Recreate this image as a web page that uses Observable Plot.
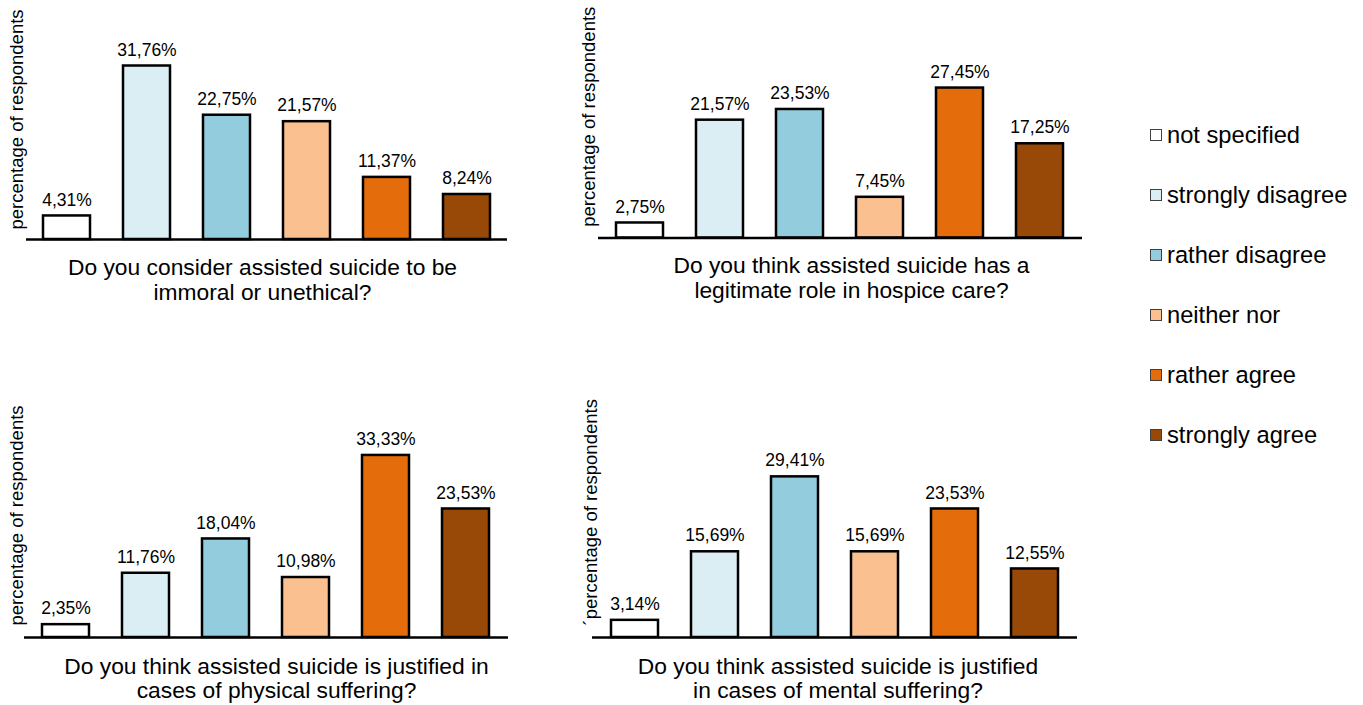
<!DOCTYPE html>
<html>
<head>
<meta charset="utf-8">
<script src="https://cdn.jsdelivr.net/npm/d3@7"></script>
<script src="https://cdn.jsdelivr.net/npm/@observablehq/plot@0.6"></script>
<style>
  html, body { margin: 0; padding: 0; background: #fff; }
  #root { position: relative; width: 1363px; height: 705px; overflow: hidden; font-family: "Liberation Sans", Arial, sans-serif; }
  .panel { position: absolute; }
  #legend { position: absolute; left: 1150px; top: 0; }
  .item { position: absolute; left: 0; display: flex; align-items: center; white-space: nowrap; font-size: 23.7px; color: #000; height: 30px; }
  .sw { width: 12px; height: 12px; box-sizing: border-box; border: 1px solid #404040; margin-right: 5px; }
</style>
</head>
<body>
<div id="root"></div>
<script>
// ---- data ----
const categories = ["not specified", "strongly disagree", "rather disagree", "neither nor", "rather agree", "strongly agree"];
const colors = ["#FFFFFF", "#DAEEF3", "#93CDDD", "#FAC090", "#E46C0A", "#984807"];

const immoral  = [4.31, 31.76, 22.75, 21.57, 11.37, 8.24];
const hospice  = [2.75, 21.57, 23.53, 7.45, 27.45, 17.25];
const physical = [2.35, 11.76, 18.04, 10.98, 33.33, 23.53];
const mental   = [3.14, 15.69, 29.41, 15.69, 23.53, 12.55];

const titles = [
  "Do you consider assisted suicide to be\nimmoral or unethical?",
  "Do you think assisted suicide has a\nlegitimate role in hospice care?",
  "Do you think assisted suicide is justified in\ncases of physical suffering?",
  "Do you think assisted suicide is justified\nin cases of mental suffering?"
];
const yLabels = [
  "percentage of respondents",
  "percentage of respondents",
  "percentage of respondents",
  "´percentage of respondents"
];
const seriesList = [immoral, hospice, physical, mental];

// ---- layout (positions / styles) ----
const layout = [
  {left: 0,   top: 0,   h: 310, ml: 26, mr: 53, mt: 20.5, mb: 71,   tdx: -4.5, tdy: 40,   ldx: -9.5, ldy: -10.75},
  {left: 580, top: 0,   h: 310, ml: 18, mr: 58, mt: 19,   mb: 72.5, tdx: 11,   tdy: 39.5, ldx: -9,   ldy: -12},
  {left: 0,   top: 390, h: 315, ml: 24, mr: 52, mt: 28.5, mb: 68,   tdx: 10,   tdy: 40.5, ldx: -7.5, ldy: -12.75},
  {left: 580, top: 390, h: 315, ml: 12, mr: 63, mt: 28.5, mb: 68,   tdx: 3,    tdy: 40.5, ldx: -1,   ldy: -16}
];

const fmt = v => v.toFixed(2).replace(".", ",") + "%";
const root = document.getElementById("root");

seriesList.forEach((vals, i) => {
  const L = layout[i];
  const rows = categories.map((c, j) => ({cat: c, value: vals[j]}));
  const chart = Plot.plot({
    width: 560,
    height: L.h,
    marginLeft: L.ml, marginRight: L.mr, marginTop: L.mt, marginBottom: L.mb,
    x: {domain: categories, paddingInner: 0.41, paddingOuter: 0.205, axis: null},
    y: {domain: [0, 40], axis: null},
    color: {domain: categories, range: colors},
    style: {fontFamily: "'Liberation Sans', Arial, sans-serif", overflow: "visible", background: "transparent"},
    marks: [
      Plot.barY(rows, {x: "cat", y: "value", fill: "cat", stroke: "#000", strokeWidth: 2.5}),
      Plot.ruleY([0], {stroke: "#000", strokeWidth: 2.7}),
      Plot.text(rows, {x: "cat", y: "value", text: d => fmt(d.value), dy: -16, fontSize: 17.5, fill: "#000"}),
      Plot.text([titles[i]], {frameAnchor: "bottom", lineAnchor: "middle", dx: L.tdx, dy: L.tdy, fontSize: 22.8, lineHeight: 1.07, fill: "#000"}),
      Plot.text([yLabels[i]], {frameAnchor: "left", rotate: -90, textAnchor: "middle", lineAnchor: "middle", dx: L.ldx, dy: L.ldy, fontSize: 18.5, fill: "#000"})
    ]
  });
  chart.classList.add("panel");
  chart.style.left = L.left + "px";
  chart.style.top = L.top + "px";
  root.appendChild(chart);
});

// ---- legend ----
const legend = document.createElement("div");
legend.id = "legend";
categories.forEach((c, j) => {
  const item = document.createElement("div");
  item.className = "item";
  item.style.top = (135 + 60 * j - 15) + "px";
  const sw = document.createElement("span");
  sw.className = "sw";
  sw.style.background = colors[j];
  const tx = document.createElement("span");
  tx.textContent = c;
  item.appendChild(sw);
  item.appendChild(tx);
  legend.appendChild(item);
});
root.appendChild(legend);
</script>
</body>
</html>
